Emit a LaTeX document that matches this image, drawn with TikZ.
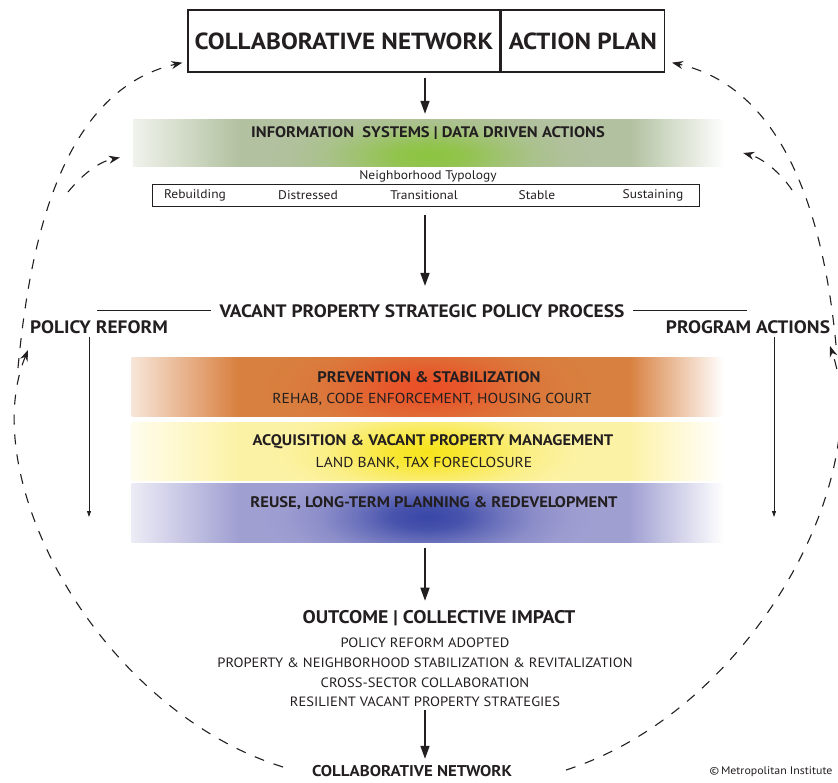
\documentclass[tikz,border=0pt]{standalone}
\usepackage{fontspec}
\setmainfont{PT Sans}[FakeStretch=1.08]
\usetikzlibrary{arrows.meta}
\definecolor{ink}{HTML}{231F20}
\definecolor{greenband}{HTML}{B2C1A0}
\definecolor{greenglow}{HTML}{8CC43F}
\definecolor{orangeband}{HTML}{D8803F}
\definecolor{orangeglow}{HTML}{EA4F27}
\definecolor{yellowband}{HTML}{FCF2A6}
\definecolor{yellowglow}{HTML}{F7E41C}
\definecolor{blueband}{HTML}{A09FD2}
\definecolor{blueglow}{HTML}{3846A6}
\colorlet{bandcol}{white}
\colorlet{glowcol}{white}
\pgfdeclarehorizontalshading[bandcol]{bandfade}{100bp}{color(0bp)=(bandcol!20!white); color(25bp)=(bandcol!20!white); color(34bp)=(bandcol); color(67bp)=(bandcol); color(75bp)=(white); color(100bp)=(white)}
\pgfdeclareradialshading[glowcol,bandcol]{glowfade}{\pgfpointorigin}{color(0bp)=(glowcol); color(3bp)=(glowcol!85!bandcol); color(6bp)=(glowcol!50!bandcol); color(9bp)=(glowcol!20!bandcol); color(12bp)=(glowcol!4!bandcol); color(14bp)=(bandcol); color(50bp)=(bandcol)}
\tikzset{
  flow/.style={draw=ink, line width=1.6pt, -{Triangle[length=13pt,width=9pt]}},
  side/.style={draw=ink, line width=0.8pt, -{Triangle[length=6pt,width=4pt]}},
  loop/.style={draw=ink, line width=1.1pt, dash pattern=on 10pt off 10pt, -{Stealth[length=11pt,width=8pt]}},
  rule/.style={draw=ink, line width=1pt},
  box/.style={draw=ink, line width=1.3pt, minimum height=62pt, inner sep=0pt, text=ink, font=\bfseries\fontsize{23.3}{26}\selectfont},
  band/.style 2 args={/utils/exec=\colorlet{bandcol}{#2}, shade, shading=bandfade, minimum width=592pt, minimum height=#1, inner sep=0pt},
  glow/.style={/utils/exec=\colorlet{glowcol}{#1}, shading=glowfade},
  head/.style={text=ink, font=\bfseries\fontsize{18}{20}\selectfont},
  btitle/.style={text=ink, font=\bfseries\fontsize{15.3}{17}\selectfont},
  bsub/.style={text=ink, font=\fontsize{14.4}{16}\selectfont},
  small/.style={text=ink, font=\fontsize{12.5}{14}\selectfont},
}

\begin{document}
\begin{tikzpicture}[x=1pt, y=-1pt]
  \useasboundingbox (0,0) rectangle (838,783);
  \clip (0,0) rectangle (838,783);
  \coordinate (spine) at (425,0);

  % colour bands
  \node[band={47pt}{greenband}, path picture={\shade[glow=greenglow] ([yshift=-12pt]path picture bounding box.center) ellipse (180 and 90);}] (info) at (429,143.5) {};
  \node[band={59pt}{orangeband}, path picture={\shade[glow=orangeglow] (path picture bounding box.center) ellipse (185 and 110);}] (prev) at (427.5,387.5) {};
  \node[band={58pt}{yellowband}, path picture={\shade[glow=yellowglow] ([yshift=-1pt]path picture bounding box.center) ellipse (170 and 100);}] (acq) at (427.5,451) {};
  \node[band={59pt}{blueband}, path picture={\shade[glow=blueglow] ([yshift=-4pt]path picture bounding box.center) ellipse (185 and 110);}] (reuse) at (427.5,512.5) {};

  \node[box, minimum width=312pt] (cnet) at (344,41) {COLLABORATIVE NETWORK};
  \node[box, minimum width=163pt, anchor=west] (plan) at (cnet.east) {ACTION PLAN};
  \draw[flow, shorten <=5pt, shorten >=6pt] (cnet.south -| spine) -- (info.north -| spine);

  \node[btitle] (infot) at (428,133) {INFORMATION\ \ SYSTEMS | DATA DRIVEN ACTIONS};
  \node[small] (typ) at (428,176) {Neighborhood Typology};
  \node[draw=ink, line width=0.9pt, minimum width=547pt, minimum height=22pt, inner sep=0pt] (typbox) at (425.5,195) {};
  \node[small] (t1) at (195,195) {Rebuilding};
  \node[small] (t2) at (308,195) {Distressed};
  \node[small] (t3) at (424,195) {Transitional};
  \node[small] (t4) at (537,195) {Stable};
  \node[small] (t5) at (653,195) {Sustaining};

  \node[head] (process) at (422,311) {VACANT PROPERTY STRATEGIC POLICY PROCESS};
  \draw[flow, shorten <=9pt, shorten >=15pt] (typbox.south -| spine) -- (process.north -| spine);
  \coordinate (pl) at (97,311);
  \coordinate (pr) at (747,311);
  \draw[rule, shorten >=5pt] (pl) -- (process.west);
  \draw[rule, shorten >=5pt] (pr) -- (process.east);

  \node[head] (policy) at (99,327) {POLICY REFORM};
  \node[head] (program) at (748,327) {PROGRAM ACTIONS};
  \coordinate (lend) at (89,517);
  \coordinate (rend) at (774,517);
  \draw[side] (policy.south -| lend) -- (lend);
  \draw[side] (program.south -| rend) -- (rend);

  \node[btitle] (prevt) at (429,377) {PREVENTION \& STABILIZATION};
  \node[bsub] (prevs) at (432,399) {REHAB, CODE ENFORCEMENT, HOUSING COURT};
  \node[btitle] (acqt) at (433,442) {ACQUISITION \& VACANT PROPERTY MANAGEMENT};
  \node[bsub] (acqs) at (424,463) {LAND BANK, TAX FORECLOSURE};
  \node[btitle] (reuset) at (434,503) {REUSE, LONG-TERM PLANNING \& REDEVELOPMENT};

  \node[head, font=\bfseries\fontsize{18.3}{20}\selectfont] (outcome) at (439,618) {OUTCOME | COLLECTIVE IMPACT};
  \draw[flow, shorten <=6pt, shorten >=6pt] (reuse.south -| spine) -- (outcome.north -| spine);
  \node[bsub, font=\fontsize{13.5}{19.7}\selectfont, align=center] (results) at (425,672.5) {POLICY REFORM ADOPTED\\PROPERTY \& NEIGHBORHOOD STABILIZATION \& REVITALIZATION\\CROSS-SECTOR COLLABORATION\\RESILIENT VACANT PROPERTY STRATEGIES};
  \node[head, font=\bfseries\fontsize{15.6}{18}\selectfont] (netbot) at (412,771) {COLLABORATIVE NETWORK};
  \draw[flow, shorten >=3pt] (results.south -| spine) -- (netbot.north -| spine);
  \node[small, font=\fontsize{11}{13}\selectfont, anchor=east] (credit) at (836,772) {\textcopyright\,Metropolitan Institute};

  % feedback loops
  \coordinate (lb) at (283,767);
  \coordinate (lp) at (28,350);
  \coordinate (lu) at (18,368);
  \coordinate (li) at (68,192);
  \coordinate (rb) at (566,770);
  \coordinate (rp) at (830,346);
  \coordinate (ru) at (836,345);
  \coordinate (ri) at (792,190);
  \draw[loop] (lb) .. controls (100,710) and (-25,480) .. (lp);
  \draw[loop] (lu) .. controls (30,240) and (62,90) .. ([xshift=-5pt,yshift=10pt]cnet.south west);
  \draw[loop] (li) .. controls (82,175) and (98,162) .. ([xshift=-13pt,yshift=-14pt]info.west);
  \draw[loop] (rb) .. controls (752,710) and (875,478) .. (rp);
  \draw[loop] (ru) .. controls (826,240) and (794,90) .. ([xshift=7pt,yshift=10pt]plan.south east);
  \draw[loop] (ri) .. controls (780,172) and (762,158) .. ([xshift=18pt,yshift=-9.5pt]info.east);
\end{tikzpicture}
\end{document}
